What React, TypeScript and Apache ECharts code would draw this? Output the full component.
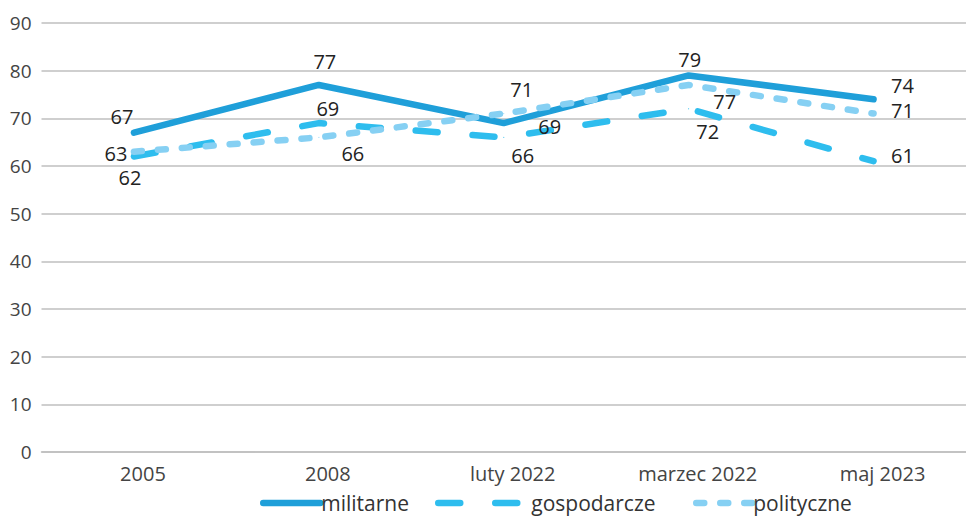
import React, { useEffect, useRef } from 'react';
import * as echarts from 'echarts';

const categories = ['2005', '2008', 'luty 2022', 'marzec 2022', 'maj 2023'];
const militarne = [67, 77, 69, 79, 74];
const gospodarcze = [62, 69, 66, 72, 61];
const polityczne = [63, 66, 71, 77, 71];

// label offsets (styling only)
const militarneLabelOffsets = [[-12, -16], [6, -23], [46, 3], [1, -16], [29, -14]];
const gospodarczeLabelOffsets = [[-4, 21], [9, -15], [19, 18], [19, 23], [29, -6]];
const polityczneLabelOffsets = [[-18, 2], [34, 16], [18, -24], [36, 17], [29, -3]];

const FONT = '"Open Sans", "Noto Sans", sans-serif';
const C_MIL = '#1f9fd9';
const C_GOS = '#2ebdee';
const C_POL = '#86d0f3';

const DASH_GOS = [22, 35];
const DASH_POL = [8, 16];

function mkSeries(name: string, values: number[], offsets: number[][], color: string, dash: any) {
  return {
    name,
    type: 'line',
    data: values.map((v, i) => ({ value: v, label: { offset: offsets[i] } })),
    symbol: 'circle',
    symbolSize: 1,
    itemStyle: { color },
    lineStyle: { color, width: 6.5, type: dash, cap: 'round', join: 'round' },
    label: {
      show: true,
      position: 'inside',
      fontSize: 20,
      lineHeight: 18,
      color: '#222',
      fontFamily: FONT,
      textBorderWidth: 0,
    },
    emphasis: { disabled: true },
  };
}

function mkLegend(name: string, left: number, width: number, color: string, dash: any) {
  return {
    data: [name],
    left,
    top: 492,
    padding: 0,
    itemWidth: width,
    itemHeight: 14,
    itemGap: 0,
    selectedMode: false,
    itemStyle: { opacity: 0 },
    lineStyle: { width: 6.5, color, type: dash, cap: 'round' },
    textStyle: {
      fontSize: 21,
      lineHeight: 22,
      color: '#333',
      fontFamily: FONT,
      padding: [0, 0, 0, -4],
    },
  };
}

export default function App() {
  const ref = useRef<HTMLDivElement>(null);
  useEffect(() => {
    if (!ref.current) return;
    const chart = echarts.init(ref.current, null, { renderer: 'svg' });
    chart.setOption({
      animation: false,
      backgroundColor: '#ffffff',
      grid: { left: 41.5, right: -10.5, top: 23, bottom: 66, containLabel: false },
      xAxis: {
        type: 'category',
        data: categories,
        boundaryGap: true,
        axisLine: { show: true, lineStyle: { color: '#bfbfbf', width: 1.5 } },
        axisTick: { show: false },
        axisLabel: {
          fontSize: 20,
          color: '#444',
          fontFamily: FONT,
          margin: 11,
          padding: [0, 0, 0, 18],
        },
      },
      yAxis: {
        type: 'value',
        min: 0,
        max: 90,
        interval: 10,
        axisLine: { show: false },
        axisTick: { show: false },
        splitLine: { lineStyle: { color: '#bfbfbf', width: 1.5 } },
        axisLabel: { fontSize: 19, color: '#444', fontFamily: FONT, margin: 10 },
      },
      legend: [
        mkLegend('militarne', 260, 57, C_MIL, 'solid'),
        mkLegend('gospodarcze', 435, 92, C_GOS, DASH_GOS),
        mkLegend('polityczne', 693, 56, C_POL, DASH_POL),
      ],
      series: [
        mkSeries('militarne', militarne, militarneLabelOffsets, C_MIL, 'solid'),
        mkSeries('gospodarcze', gospodarcze, gospodarczeLabelOffsets, C_GOS, DASH_GOS),
        mkSeries('polityczne', polityczne, polityczneLabelOffsets, C_POL, DASH_POL),
      ],
    });
    return () => chart.dispose();
  }, []);
  return (
    <div
      ref={ref}
      style={{ position: 'absolute', left: 0, top: 0, width: 966, height: 518 }}
    />
  );
}
